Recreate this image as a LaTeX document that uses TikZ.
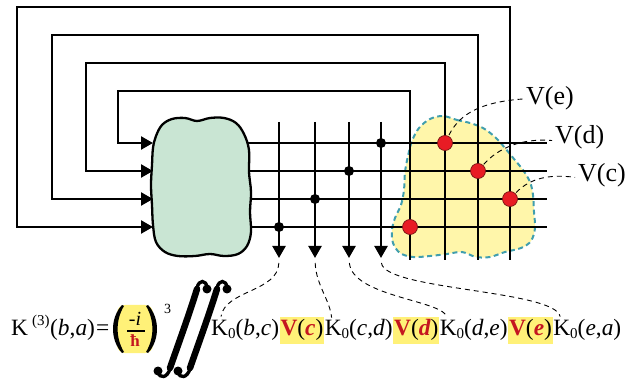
\documentclass[tikz,border=0pt]{standalone}
\usepackage{fontspec}
\setmainfont{Liberation Serif}
\usetikzlibrary{arrows.meta,calc}

\definecolor{blobgreen}{RGB}{201,229,211}
\definecolor{blobyellow}{RGB}{255,246,170}
\definecolor{hlyellow}{RGB}{255,241,120}
\definecolor{tealdash}{RGB}{64,158,174}
\definecolor{dotred}{RGB}{232,28,36}
\definecolor{dotrim}{RGB}{120,20,20}
\definecolor{termred}{RGB}{196,22,32}

% propagator K_0 with lowered subscript
\newcommand{\Kzero}{K\raisebox{-3pt}{\fontsize{15}{15}\selectfont 0}}
% highlighted vertex factor V(x)
\newcommand{\Vfac}[1]{{\bfseries\color{termred}V}({\bfseries\itshape\color{termred}#1})}

\begin{document}
\begin{tikzpicture}[x=1pt,y=-1pt,
  wire/.style={line width=2.3pt,black},
  feed/.style={wire,-{Triangle[length=12pt,width=13pt]}},
  leader/.style={line width=0.9pt,dash pattern=on 5pt off 4pt},
  vdot/.style={circle,fill=dotred,draw=dotrim,line width=0.7pt,minimum size=15pt,inner sep=0pt},
  jdot/.style={circle,fill=black,minimum size=10pt,inner sep=0pt},
  term/.style={anchor=base west,inner sep=0pt,font=\fontsize{23.4}{23.4}\selectfont},
  hl/.style={term,fill=hlyellow,inner xsep=1pt,text height=18pt,text depth=9pt},
  vlabel/.style={anchor=base west,inner sep=0pt,font=\fontsize{26}{26}\selectfont},
  intstroke/.style={line cap=round,black}
]
\useasboundingbox (0,0) rectangle (629,379);

% ---- interaction region (yellow, dashed outline) ----
\filldraw[fill=blobyellow,draw=tealdash,line width=2pt,dash pattern=on 5pt off 3.5pt]
  plot[smooth cycle,tension=0.55] coordinates {
  (443,116) (457,120) (470,123) (483,128) (495,137) (505,148) (514,159)
  (523,170) (530,182) (533,195) (534,212) (535,228) (531,241) (521,248)
  (505,252) (490,257) (476,257) (462,252) (447,254) (430,256) (413,257)
  (400,253) (393,243) (392,230) (395,218) (401,205) (404,190) (405,172)
  (408,156) (412,141) (419,128) (430,119)};

% ---- feedback loops ending in arrows at the source ----
\coordinate (in1) at (153,143);
\coordinate (in2) at (153,171);
\coordinate (in3) at (153,199);
\coordinate (in4) at (153,227);
\draw[feed] (410,260) |- (118,91) |- (in1);
\draw[feed] (445,260) |- (86,63)  |- (in2);
\draw[feed] (478,260) |- (52,35)  |- (in3);
\draw[feed] (510,260) |- (17,7)   |- (in4);

% ---- horizontal rows ----
\foreach \r in {143,171,199,227}
  \draw[wire] (200,\r) -- (547,\r);

% ---- outgoing arrows ----
\coordinate (t1) at (279,258);
\coordinate (t2) at (315,258);
\coordinate (t3) at (349,258);
\coordinate (t4) at (381,258);
\draw[feed] (279,122) -- (t1);
\draw[feed] (315,122) -- (t2);
\draw[feed] (349,122) -- (t3);
\draw[feed] (381,122) -- (t4);

% ---- source blob ----
\filldraw[fill=blobgreen,draw=black,line width=2.3pt]
  plot[smooth cycle,tension=0.6] coordinates {
  (156,136) (162,125) (172,119) (185,118) (197,121) (210,118) (224,118)
  (236,123) (244,134) (249,150) (249,172) (251,192) (250,212) (251,232)
  (247,246) (238,254) (224,256) (210,254) (195,256) (178,256) (165,252)
  (156,242) (153,225) (152,205) (151,185) (152,165) (153,148)};

% ---- junction dots ----
\node[jdot] (j1) at (279,227) {};
\node[jdot] (j2) at (315,199) {};
\node[jdot] (j3) at (349,171) {};
\node[jdot] (j4) at (381,143) {};

% ---- vertex dots ----
\node[vdot] (rE) at (445,143) {};
\node[vdot] (rD) at (478,171) {};
\node[vdot] (rC) at (510,199) {};
\node[vdot] (rA) at (410,227) {};

% ---- vertex labels ----
\node[vlabel] (labE) at (526,105) {V(e)};
\node[vlabel] (labD) at (555,144) {V(d)};
\node[vlabel] (labC) at (578,182) {V(c)};
\draw[leader,shorten <=1pt,shorten >=3pt] (rE) .. controls (460,113) and (482,102) .. ($(labE.west)+(0,0)$);
\draw[leader,shorten <=1pt,shorten >=3pt] (rD) .. controls (498,148) and (522,138) .. ($(labD.west)+(0,3)$);
\draw[leader,shorten <=1pt,shorten >=3pt] (rC) .. controls (530,178) and (550,174) .. ($(labC.west)+(0,2)$);

% ---- formula ----
\node[term] (kk) at (11,335) {K};
\node[anchor=base west,inner sep=0pt,font=\fontsize{15}{15}\selectfont] (ord) at (32,326) {(3)};
\node[term] (ba) at (50,335) {(\textit{b},\textit{a})};
\node[term] (eq) at (96,335) {=};

\fill[hlyellow,rounded corners=8pt] (117,305) rectangle (153,353);
\fill (122,305) .. controls (110,318) and (110,340) .. (122,353)
  -- (124,352) .. controls (115.5,338) and (115.5,320) .. (124,306) -- cycle;
\fill (148,305) .. controls (160,318) and (160,340) .. (148,353)
  -- (146,352) .. controls (154.5,338) and (154.5,320) .. (146,306) -- cycle;
\node[anchor=base,inner sep=0pt,font=\fontsize{20}{20}\selectfont] (num) at (135,325) {-\textit{i}};
\node[anchor=base,inner sep=0pt,font=\fontsize{17}{17}\selectfont\bfseries,text=termred] (hb) at (135,346) {ħ};
\draw[line width=1.1pt] (127,331) -- (145,331);
\node[anchor=base west,inner sep=0pt,font=\fontsize{14}{14}\selectfont] (cube) at (164,313) {3};

% double integral
\foreach \dx in {0,20}{
  \begin{scope}[xshift=\dx]
    \fill (207,289) circle (4.5);
    \draw[intstroke,line width=3.4pt] (207,287) .. controls (206,280) and (199,279) .. (197,288);
    \draw[intstroke,line width=6.5pt] (197,289) .. controls (189,315) and (178,345) .. (170,368);
    \draw[intstroke,line width=3.4pt] (170,369) .. controls (167,378) and (160,379) .. (158,372);
    \fill (158,371) circle (4.5);
  \end{scope}
}

% propagators and vertex factors, set one after another on a common baseline
\node[term] (k1) at (211,335) {\Kzero(\textit{b},\textit{c})};
\node[hl]   (vc) at (k1.base east) {\Vfac{c}};
\node[term] (k2) at (vc.base east) {\Kzero(\textit{c},\textit{d})};
\node[hl]   (vd) at (k2.base east) {\Vfac{d}};
\node[term] (k3) at (vd.base east) {\Kzero(\textit{d},\textit{e})};
\node[hl]   (ve) at (k3.base east) {\Vfac{e}};
\node[term] (k4) at (ve.base east) {\Kzero(\textit{e},\textit{a})};

% ---- links from outgoing arrows to propagators ----
\draw[leader,shorten <=5pt] (t1) .. controls (278,292) and (225,290) .. ($(k1.north west)+(10,-2)$);
\draw[leader,shorten <=5pt] (t2) .. controls (316,285) and (330,300) .. ($(k2.north west)+(7,-1)$);
\draw[leader,shorten <=5pt] (t3) .. controls (352,295) and (435,300) .. ($(k3.north west)+(6,-4)$);
\draw[leader,shorten <=5pt] (t4) .. controls (384,290) and (555,290) .. ($(k4.north west)+(7,-2)$);
\end{tikzpicture}
\end{document}
